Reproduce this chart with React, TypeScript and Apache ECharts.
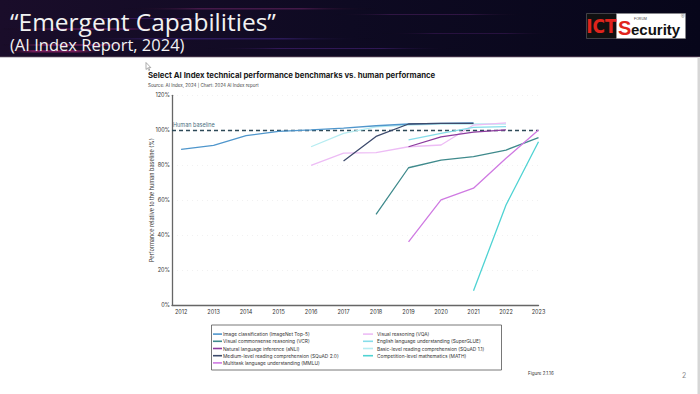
import React, { useEffect, useRef } from "react";
import * as echarts from "echarts";

const years = [2012, 2013, 2014, 2015, 2016, 2017, 2018, 2019, 2020, 2021, 2022, 2023];
const yTicks = [0, 20, 40, 60, 80, 100, 120];
const n = null;
const imageNet = [89.1, 91.4, 96.9, 99.4, 100.3, 101.3, 102.6, 103.6, 104.0, 104.2, n, n];
const vcr = [n, n, n, n, n, n, 52, 78.6, 83, 84.9, 88.7, 95.8];
const anli = [n, n, n, n, n, n, n, 90.6, 96.3, 98.9, 100.3, n];
const squad2 = [n, n, n, n, n, 82.5, 96.5, 103.6, 103.9, 104.0, n, n];
const mmlu = [n, n, n, n, n, n, n, 36.2, 60.2, 66.9, 84, 100.2];
const vqa = [n, n, n, n, 80, 86.9, 87.2, 90.6, 91.6, 103, 104.3, n];
const superglue = [n, n, n, n, n, n, n, 94.5, 98.3, 101.7, 102.1, n];
const squad1 = [n, n, n, n, 90.6, 98.3, 101.9, 103, 103.6, 103.7, 103.6, n];
const math = [n, n, n, n, n, n, n, n, n, 8.3, 57.3, 93.5];
const humanBaseline = 100;

const leftNames = [
  "Image classification (ImageNet Top-5)",
  "Visual commonsense reasoning (VCR)",
  "Natural language inference (aNLI)",
  "Medium-level reading comprehension (SQuAD 2.0)",
  "Multitask language understanding (MMLU)",
];
const rightNames = [
  "Visual reasoning (VQA)",
  "English language understanding (SuperGLUE)",
  "Basic-level reading comprehension (SQuAD 1.1)",
  "Competition-level mathematics (MATH)",
];

const seriesDefs = [
  { name: rightNames[2], data: squad1, color: "#b6ecf1" },
  { name: rightNames[0], data: vqa, color: "#edbcf5" },
  { name: rightNames[1], data: superglue, color: "#86dde9" },
  { name: leftNames[0], data: imageNet, color: "#4f96cc" },
  { name: leftNames[3], data: squad2, color: "#3c4a6c" },
  { name: leftNames[2], data: anli, color: "#8c3c9e" },
  { name: leftNames[1], data: vcr, color: "#3f8a8c" },
  { name: leftNames[4], data: mmlu, color: "#cf7ae2" },
  { name: rightNames[3], data: math, color: "#4fd3d3" },
];

const FONT = "Inter, 'Noto Sans', sans-serif";
const HEAD_FONT = "'Open Sans', 'DejaVu Sans', sans-serif";

export default function App() {
  const ref = useRef<HTMLDivElement>(null);
  useEffect(() => {
    document.body.style.margin = "0";
    const chart = echarts.init(ref.current!, null, { renderer: "svg" });
    const series: any[] = seriesDefs.map((s, idx) => ({
      type: "line",
      name: s.name,
      data: years
        .map((y, i) => [y, s.data[i]])
        .filter((p) => p[1] !== null),
      showSymbol: false,
      symbol: "none",
      lineStyle: { color: s.color, width: 1.3 },
      itemStyle: { color: s.color },
      z: 3,
      markLine:
        idx === 0
          ? {
              silent: true,
              symbol: "none",
              data: [{ yAxis: humanBaseline }],
              lineStyle: { color: "#2e4a58", type: [4, 3], width: 1.3 },
              label: {
                show: true,
                position: "insideStartTop",
                formatter: "Human baseline",
                color: "#4a6e80",
                fontSize: 5.5,
                fontFamily: FONT,
                distance: [1, 2],
              },
              z: 2,
            }
          : undefined,
    }));

    const legendCommon = {
      orient: "vertical",
      icon: "rect",
      itemHeight: 1.6,
      itemGap: 2.2,
      padding: 0,
      selectedMode: false,
    };
    const legendText = { fontSize: 4.8, lineHeight: 4.8, color: "#333", fontFamily: FONT };

    const streaks = [
      { y: 8, h: 1.5, x: 120, w: 260, c: "rgba(120,40,110,0.5)" },
      { y: 18, h: 1, x: 40, w: 200, c: "rgba(90,40,140,0.5)" },
      { y: 28, h: 2, x: 0, w: 180, c: "rgba(110,30,100,0.55)" },
      { y: 38, h: 1.5, x: 60, w: 320, c: "rgba(70,40,140,0.5)" },
      { y: 44, h: 2, x: 0, w: 150, c: "rgba(150,40,110,0.5)" },
      { y: 50, h: 2.5, x: 0, w: 110, c: "rgba(170,40,120,0.6)" },
      { y: 48, h: 1, x: 200, w: 260, c: "rgba(90,40,150,0.45)" },
      { y: 14, h: 1, x: 330, w: 200, c: "rgba(100,40,120,0.4)" },
      { y: 33, h: 1, x: 380, w: 180, c: "rgba(80,30,110,0.4)" },
    ];

    chart.setOption({
      animation: false,
      backgroundColor: "#ffffff",
      grid: { left: 172, right: 161.5, top: 95.3, bottom: 88.7, containLabel: false },
      xAxis: {
        type: "value",
        min: 2011.72,
        max: 2023,
        axisLine: { show: true, lineStyle: { color: "#666", width: 1.3 } },
        axisTick: { show: false },
        splitLine: { show: false },
        axisLabel: {
          customValues: years,
          formatter: (v: number) => String(v),
          fontSize: 5.5,
          color: "#333",
          fontFamily: FONT,
          margin: 4,
        },
      },
      yAxis: {
        type: "value",
        min: 0,
        max: 120,
        interval: 20,
        axisLine: { show: true, lineStyle: { color: "#666", width: 1.3 } },
        axisTick: { show: false },
        splitLine: { show: true, lineStyle: { color: "#eeeeee", type: [1, 4], width: 0.8 } },
        axisLabel: {
          customValues: yTicks,
          formatter: "{value}%",
          fontSize: 5.5,
          color: "#333",
          fontFamily: FONT,
          margin: 2,
        },
        name: "Performance relative to the human baseline (%)",
        nameLocation: "middle",
        nameGap: 17.5,
        nameMoveOverlap: false,
        nameTextStyle: { fontSize: 5.5, color: "#333", fontFamily: FONT },
      },
      legend: [
        {
          ...legendCommon,
          left: 213,
          top: 331.6,
          itemWidth: 9,
          textStyle: { ...legendText, padding: [0, 0, 0, -4] },
          data: leftNames,
        },
        {
          ...legendCommon,
          left: 363,
          top: 331.6,
          itemWidth: 10,
          textStyle: { ...legendText, padding: [0, 0, 0, -1] },
          data: rightNames,
        },
      ],
      series,
      graphic: [
        {
          type: "rect",
          shape: { x: 0, y: 0, width: 700, height: 57 },
          style: {
            fill: new echarts.graphic.LinearGradient(0, 0, 1, 0, [
              { offset: 0, color: "#1a0d2a" },
              { offset: 0.5, color: "#0e0a22" },
              { offset: 1, color: "#07061a" },
            ]),
          },
          z: 0,
        },
        ...streaks.map((s) => ({
          type: "rect",
          shape: { x: s.x, y: s.y, width: s.w, height: s.h },
          style: {
            fill: new echarts.graphic.LinearGradient(0, 0, 1, 0, [
              { offset: 0, color: "rgba(0,0,0,0)" },
              { offset: 0.3, color: s.c },
              { offset: 0.7, color: s.c },
              { offset: 1, color: "rgba(0,0,0,0)" },
            ]),
          },
          z: 1,
        })),
        {
          type: "rect",
          shape: { x: 0, y: 56, width: 700, height: 1.2 },
          style: { fill: "#3a2a40" },
          z: 1,
        },
        {
          type: "text",
          x: 10,
          y: 21.5,
          style: {
            text: "\u201cEmergent Capabilities\u201d",
            fill: "#f2f2f2",
            fontSize: 24.5,
            lineHeight: 20,
            fontFamily: HEAD_FONT,
            verticalAlign: "middle",
          },
          z: 5,
        },
        {
          type: "text",
          x: 10,
          y: 44.5,
          style: {
            text: "(AI Index Report, 2024)",
            fill: "#f2f2f2",
            fontSize: 16.5,
            lineHeight: 14,
            fontFamily: HEAD_FONT,
            verticalAlign: "middle",
          },
          z: 5,
        },
        // logo
        {
          type: "rect",
          shape: { x: 586.5, y: 13.5, width: 30, height: 25 },
          style: { fill: "#111111", stroke: "#777", lineWidth: 0.5 },
          z: 5,
        },
        {
          type: "rect",
          shape: { x: 616.5, y: 13.5, width: 69, height: 25 },
          style: { fill: "#ffffff", stroke: "#888", lineWidth: 0.5 },
          z: 5,
        },
        {
          type: "text",
          x: 601.5,
          y: 26,
          style: {
            text: "ICT",
            fill: "#e0241c",
            fontSize: 19,
            fontWeight: "bold",
            fontFamily: "'Liberation Sans Narrow', 'DejaVu Sans Condensed', sans-serif",
            align: "center",
            verticalAlign: "middle",
          },
          z: 6,
        },
        {
          type: "text",
          x: 618,
          y: 27.5,
          style: {
            text: "S",
            fill: "#e0241c",
            fontSize: 20,
            fontWeight: "bold",
            fontFamily: "'Liberation Sans', sans-serif",
            verticalAlign: "middle",
          },
          z: 6,
        },
        {
          type: "text",
          x: 631,
          y: 29,
          style: {
            text: "ecurity",
            fill: "#111",
            fontSize: 15,
            fontWeight: "bold",
            fontFamily: "'Liberation Sans', sans-serif",
            verticalAlign: "middle",
          },
          z: 6,
        },
        {
          type: "text",
          x: 634,
          y: 18.5,
          style: { text: "FORUM", fill: "#444", fontSize: 3.5, fontFamily: "'Liberation Sans', sans-serif", verticalAlign: "middle" },
          z: 6,
        },
        {
          type: "text",
          x: 681,
          y: 16,
          style: { text: "\u00ae", fill: "#666", fontSize: 5, fontFamily: "'Liberation Sans', sans-serif", verticalAlign: "middle" },
          z: 6,
        },
        // slide right edge
        {
          type: "rect",
          shape: { x: 697.5, y: 57, width: 2.5, height: 337 },
          style: { fill: "#d6d6d6" },
          z: 1,
        },
        // cursor
        {
          type: "polygon",
          shape: { points: [[146, 62.5], [146, 69.5], [147.6, 68], [148.8, 70.6], [149.8, 70.1], [148.6, 67.6], [150.8, 67.6]] },
          style: { fill: "#fff", stroke: "#777", lineWidth: 0.6 },
          z: 6,
        },
        {
          type: "text",
          x: 148,
          y: 71.2,
          style: {
            text: "Select AI Index technical performance benchmarks vs. human performance",
            fill: "#1a1a1a",
            fontSize: 7.8,
            fontWeight: "bold",
            fontFamily: FONT,
          },
          z: 5,
        },
        {
          type: "text",
          x: 148,
          y: 82.5,
          style: {
            text: "Source: AI Index, 2024 | Chart: 2024 AI Index report",
            fill: "#444",
            fontSize: 4.5,
            fontFamily: FONT,
          },
          z: 5,
        },
        {
          type: "rect",
          shape: { x: 211.5, y: 325, width: 290, height: 45 },
          style: { fill: "none", stroke: "#555", lineWidth: 0.8 },
          z: 5,
        },
        {
          type: "text",
          x: 528,
          y: 370.5,
          style: { text: "Figure 2.1.16", fill: "#333", fontSize: 4.5, fontFamily: FONT },
          z: 5,
        },
        {
          type: "text",
          x: 682,
          y: 372,
          style: { text: "2", fill: "#888", fontSize: 7, fontFamily: FONT },
          z: 5,
        },
      ],
    });
    return () => chart.dispose();
  }, []);
  return <div ref={ref} style={{ position: "fixed", left: 0, top: 0, width: 700, height: 394 }} />;
}
